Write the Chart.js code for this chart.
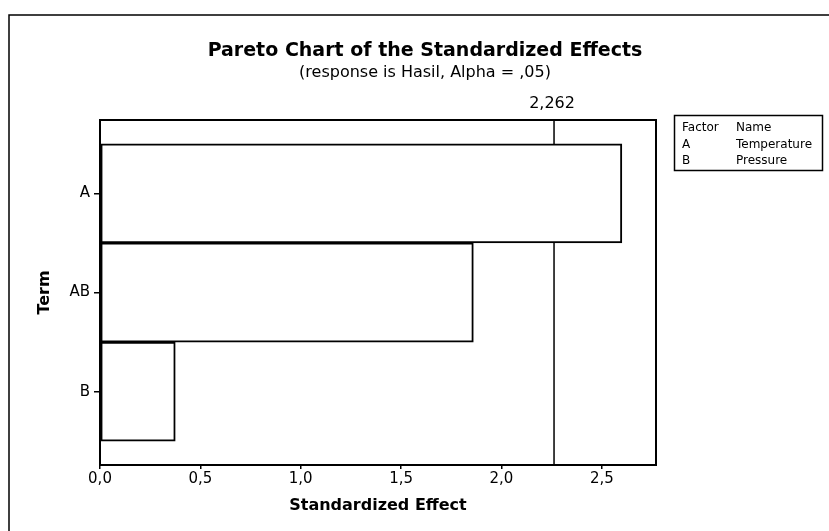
<!DOCTYPE html>
<html>
<head>
<meta charset="utf-8">
<script src="https://cdn.jsdelivr.net/npm/chart.js@4.4.1/dist/chart.umd.min.js"></script>
<style>
    html, body { margin: 0; padding: 0; background: #fff; }
    #wrap { width: 829px; height: 531px; }
</style>
</head>
<body>
<div id="wrap"><canvas id="paretoChart" width="829" height="531"></canvas></div>
<script>
// Terms (top to bottom) and their standardized effects
const terms = ['A', 'AB', 'B'];
const effects = [2.60, 1.86, 0.375];

// Critical value for Alpha = ,05
const criticalValue = 2.262;
const criticalLabel = '2,262';

// X axis ticks (comma decimal, as in the Minitab output)
const xTickValues = [0, 0.5, 1.0, 1.5, 2.0, 2.5];
const xTickLabels = ['0,0', '0,5', '1,0', '1,5', '2,0', '2,5'];

// Factor table at the right
const factorCodes = ['A', 'B'];
const factorNames = ['Temperature', 'Pressure'];

const FONT = '"DejaVu Sans", Verdana, sans-serif';

// Draws the titles, the frames, the 2,262 reference line and the factor table
const paretoExtras = {
    id: 'paretoExtras',
    beforeDraw(chart) {
        const ctx = chart.ctx;
        ctx.save();
        ctx.fillStyle = '#fff';
        ctx.fillRect(0, 0, chart.width, chart.height);

        // outer graph frame (only left and top are visible)
        ctx.strokeStyle = '#000';
        ctx.lineWidth = 1.5;
        ctx.beginPath();
        ctx.moveTo(9, chart.height);
        ctx.lineTo(9, 15);
        ctx.lineTo(chart.width, 15);
        ctx.stroke();

        // titles
        ctx.fillStyle = '#000';
        ctx.textAlign = 'center';
        ctx.textBaseline = 'alphabetic';
        ctx.font = 'bold 19px ' + FONT;
        ctx.fillText('Pareto Chart of the Standardized Effects', 425, 56);
        ctx.font = '16px ' + FONT;
        ctx.fillText('(response is Hasil, Alpha = ,05)', 425, 77);

        // factor table
        ctx.lineWidth = 1.5;
        ctx.strokeRect(674.5, 115.5, 148, 55);
        ctx.textAlign = 'left';
        ctx.font = '12px ' + FONT;
        ctx.fillText('Factor', 682, 131);
        ctx.fillText('Name', 736, 131);
        factorCodes.forEach(function(code, i) {
            ctx.fillText(code, 682, 148 + i * 16);
            ctx.fillText(factorNames[i], 736, 148 + i * 16);
        });
        ctx.restore();
    },
    beforeDatasetsDraw(chart) {
        // reference line sits behind the bars
        const ctx = chart.ctx;
        const area = chart.chartArea;
        const xPos = chart.scales.x.getPixelForValue(criticalValue);
        ctx.save();
        ctx.strokeStyle = '#000';
        ctx.lineWidth = 1.5;
        ctx.beginPath();
        ctx.moveTo(xPos, area.top);
        ctx.lineTo(xPos, area.bottom);
        ctx.stroke();
        ctx.restore();
    },
    afterDraw(chart) {
        const ctx = chart.ctx;
        const area = chart.chartArea;
        const xPos = chart.scales.x.getPixelForValue(criticalValue);
        ctx.save();
        ctx.fillStyle = '#000';
        ctx.font = '16px ' + FONT;
        ctx.textAlign = 'center';
        ctx.textBaseline = 'alphabetic';
        ctx.fillText(criticalLabel, xPos - 2, 108);

        // plot frame
        ctx.strokeStyle = '#000';
        ctx.lineWidth = 2;
        ctx.strokeRect(area.left, area.top, area.right - area.left, area.bottom - area.top);
        ctx.restore();
    }
};

const ctx = document.getElementById('paretoChart').getContext('2d');

const paretoChart = new Chart(ctx, {
    type: 'bar',
    data: {
        datasets: [{
            data: effects.map(function(v, i) { return { x: v, y: i }; }),
            backgroundColor: '#fff',
            borderColor: '#000',
            borderWidth: 2,
            borderSkipped: false,
            barPercentage: 1,
            categoryPercentage: 1
        }]
    },
    options: {
        indexAxis: 'y',
        responsive: false,
        animation: false,
        devicePixelRatio: 1,
        layout: { padding: { left: 0, right: 173, top: 120, bottom: 0 } },
        plugins: {
            legend: { display: false },
            tooltip: { enabled: false }
        },
        scales: {
            x: {
                type: 'linear',
                min: 0,
                max: 2.77,
                afterBuildTicks: function(scale) {
                    scale.ticks = xTickValues.map(function(v) { return { value: v }; });
                },
                afterFit: function(scale) { scale.height = 66; },
                grid: { drawOnChartArea: false, color: '#000', lineWidth: 1.5, tickLength: 4 },
                border: { color: '#000', width: 2 },
                ticks: {
                    color: '#000',
                    font: { family: FONT, size: 15 },
                    padding: 1,
                    maxRotation: 0,
                    callback: function(value, index) { return xTickLabels[index]; }
                },
                title: {
                    display: true,
                    text: 'Standardized Effect',
                    color: '#000',
                    font: { family: FONT, size: 16, weight: 'bold' },
                    padding: { top: 0, bottom: 16 }
                }
            },
            y: {
                type: 'linear',
                reverse: true,
                offset: false,
                min: -0.74,
                max: 2.74,
                afterBuildTicks: function(scale) {
                    scale.ticks = terms.map(function(t, i) { return { value: i }; });
                },
                afterFit: function(scale) { scale.width = 100; },
                grid: { offset: false, drawOnChartArea: false, color: '#000', lineWidth: 1.5, tickLength: 6 },
                border: { color: '#000', width: 2 },
                ticks: {
                    color: '#000',
                    font: { family: FONT, size: 15 },
                    padding: 4,
                    callback: function(value, index) { return terms[index]; }
                },
                title: {
                    display: true,
                    text: 'Term',
                    color: '#000',
                    font: { family: FONT, size: 16, weight: 'bold' },
                    padding: { top: 35, bottom: 0 }
                }
            }
        }
    },
    plugins: [paretoExtras]
});
</script>
</body>
</html>
